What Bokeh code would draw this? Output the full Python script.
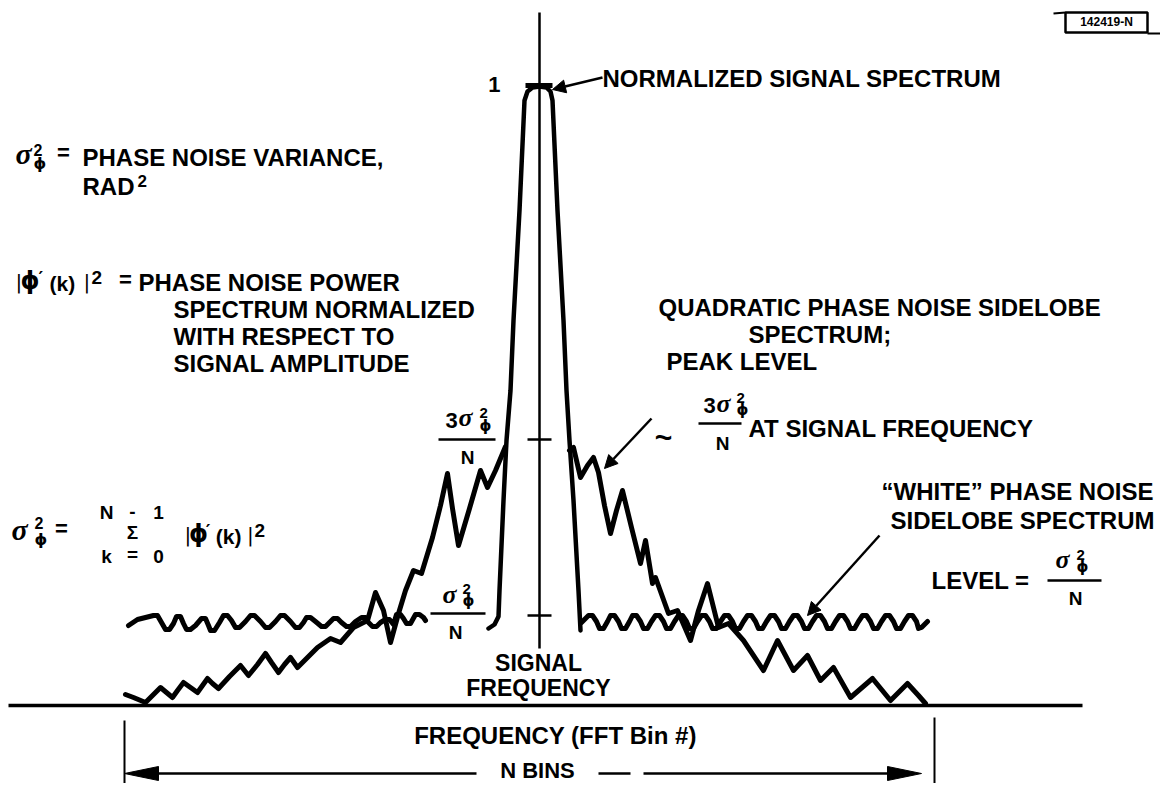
from bokeh.plotting import figure
from bokeh.models import Range1d, Arrow, NormalHead
from bokeh.core.properties import value
from bokeh.embed import file_html
from bokeh.resources import INLINE

# ---------------- data (x = FFT-bin offset from signal frequency, y = level) -------------
lobe_x = [-51, -45, -41, -40, -36, -33, -29, -26, -20, -15, -12, -7, 0, 7, 11, 13, 18, 24, 27, 30, 34, 39, 41]
lobe_y = [77, 81, 89, 115, 205, 265, 315, 385, 495, 605, 614, 618, 619, 618, 614, 605, 495, 385, 315, 265, 205, 115, 75]
peak_level = 620          # normalized peak "1"
peak_halfwidth = [-14, 13]

white_left_x = [-411, -402,
                -386, -382, -378, -374, -370, -366,
                -363, -359, -356, -353, -349, -344,
                -338, -334, -331, -329, -325, -320,
                -316, -312, -308, -304, -300, -294,
                -289, -285, -279, -274, -270, -264,
                -259, -255, -249, -244, -240, -236,
                -233, -229, -224, -218, -214, -210,
                -206, -202, -198, -193, -189, -184,
                -178, -174, -171, -167, -163, -159,
                -154, -150, -146, -143, -139, -136, -133, -129,
                -124, -120, -116, -114]
white_left_y = [80, 86,
                90, 90, 83, 76, 76, 82,
                89, 89, 82, 76, 76, 80,
                87, 87, 80, 75, 75, 83,
                90, 90, 85, 78, 78, 84,
                90, 90, 84, 78, 78, 84,
                90, 90, 84, 78, 78, 83,
                88, 88, 84, 79, 79, 83,
                87, 87, 83, 79, 79, 84,
                88, 88, 83, 79, 79, 83,
                86, 86, 81, 91, 91, 87, 82, 82,
                91, 91, 88, 85]

white_right_x = [42,
                 49, 53, 57, 60, 64, 68,
                 71, 75, 79, 82, 86, 90,
                 93, 97, 101, 104, 108, 112,
                 116, 120, 124, 127, 131, 135,
                 139, 143, 147, 150, 154, 158,
                 162, 166, 170, 173, 177, 181,
                 185, 189, 193, 196, 200, 204,
                 208, 212, 216, 219, 223, 227,
                 231, 235, 239, 242, 246, 250,
                 254, 258, 262, 265, 269, 273,
                 277, 281, 285, 288, 292, 296,
                 300, 304, 308, 311, 315, 319,
                 323, 327, 331, 334, 338, 342,
                 346, 350, 354, 357, 361, 365,
                 369, 373, 377, 379, 382, 386, 388]
white_right_y = [83,
                 90, 90, 84, 77, 77, 84,
                 90, 90, 84, 77, 77, 84,
                 90, 90, 84, 77, 77, 84,
                 90, 90, 84, 77, 77, 84,
                 90, 90, 84, 77, 77, 84,
                 90, 90, 84, 77, 77, 84,
                 90, 90, 84, 77, 77, 84,
                 90, 90, 84, 77, 77, 84,
                 90, 90, 84, 77, 77, 84,
                 90, 90, 84, 77, 77, 84,
                 90, 90, 84, 77, 77, 84,
                 90, 90, 84, 77, 77, 84,
                 90, 90, 84, 77, 77, 84,
                 90, 90, 84, 77, 77, 84,
                 90, 90, 84, 77, 78, 82, 84]

quad_left_x = [-414, -406, -394, -387, -379, -373, -367, -362, -356, -349, -342, -337, -332, -327, -321,
               -310, -299, -295, -291, -282, -274, -268, -261, -255, -249, -242, -232, -222, -209, -199,
               -186, -172, -164, -156, -149, -141, -134, -126, -118, -107, -99, -92, -87, -81, -70, -59,
               -52, -44, -34]
quad_left_y = [11, 8, 3, 10, 18, 13, 8, 15, 23, 18, 13, 20, 27, 22, 17,
               29, 40, 35, 30, 41, 52, 43, 33, 41, 48, 38, 48, 58, 67, 63,
               78, 85, 113, 95, 63, 92, 115, 135, 132, 168, 200, 232, 197, 160, 197, 235,
               218, 235, 259]

quad_right_x = [30, 34, 41, 48, 54, 59, 65, 71, 77, 83, 92, 101, 106, 113, 116, 129, 138, 151, 159, 168,
                179, 189, 204, 224, 238, 254, 268, 281, 294, 311, 333, 351, 368, 379, 386]
quad_right_y = [255, 258, 228, 240, 248, 233, 200, 172, 195, 215, 178, 142, 165, 122, 128, 92, 95, 65, 95, 122,
                78, 82, 65, 35, 65, 35, 50, 25, 38, 8, 27, 5, 22, 10, 2]

levels = {"3σ²/N": 266, "σ²/N": 90}

# ---------------- figure ----------------------------------------------------------------
X0, Y0 = 539, 705
p = figure(width=1160, height=783, output_backend="svg", toolbar_location=None,
           x_range=Range1d(0 - X0, 1160 - X0), y_range=Range1d(Y0 - 783, Y0 - 0),
           x_axis_location=None, y_axis_location=None, min_border=0)
p.grid.visible = False
p.outline_line_color = None
p.background_fill_color = "white"
p.border_fill_color = "white"

def T(X, Yc, s, size, align="left", font="Liberation Sans", style="bold", cap=0.72):
    yb = Yc + cap * size / 2 - 0.37 * size
    p.text(x=[X - X0], y=[Y0 - yb], text=[s], text_font=value(font),
           text_font_style=style, text_font_size=f"{size}px", text_align=align,
           text_baseline="alphabetic", text_color="black")

def S(X1, Y1, X2, Y2, w=2.5):
    p.segment(x0=[X1 - X0], y0=[Y0 - Y1], x1=[X2 - X0], y1=[Y0 - Y2], line_color="black",
              line_width=w, line_cap="butt")

def A(X1, Y1, X2, Y2, size=13, w=2.5):
    p.add_layout(Arrow(x_start=X1 - X0, y_start=Y0 - Y1, x_end=X2 - X0, y_end=Y0 - Y2,
                       line_width=w, line_color="black",
                       end=NormalHead(size=size, fill_color="black", line_color="black", line_width=1)))

def sig(Xs, Yc, Xsup, ysup, ysub, big=26, small=15):
    T(Xs, Yc, "σ", big, font="Liberation Serif", style="bold italic", cap=0.46)
    T(Xsup, ysup, "2", small, font="Liberation Sans", style="bold")
    T(Xsup, ysub, "ϕ", small, font="DejaVu Sans", style="bold", cap=0.56)

def phik(Xb, Yc, k=1.0):
    T(Xb, Yc, "|", 20, font="DejaVu Sans", style="normal", cap=0.72)
    T(Xb + 5 * k, Yc, "ϕ", 24, font="DejaVu Sans", style="bold", cap=0.62)
    T(Xb + 23 * k, Yc - 5, "′", 18, font="DejaVu Sans", style="bold")
    T(Xb + 34 * k, Yc + 1, "(k)", 21, font="Liberation Sans", style="bold")
    T(Xb + 68 * k, Yc, "|", 20, font="DejaVu Sans", style="normal", cap=0.72)
    T(Xb + 76 * k, Yc - 5, "2", 19, font="Liberation Sans", style="bold")

# ---------------- curves ----------------------------------------------------------------
lw = 5
p.line(white_left_x, white_left_y, line_width=lw, line_color="black", line_join="round", line_cap="round")
p.line(white_right_x, white_right_y, line_width=lw, line_color="black", line_join="round", line_cap="round")
p.line(quad_left_x, quad_left_y, line_width=lw, line_color="black", line_join="round", line_cap="round")
p.line(quad_right_x, quad_right_y, line_width=lw, line_color="black", line_join="round", line_cap="round")
p.line(lobe_x, lobe_y, line_width=4.5, line_color="black", line_join="round", line_cap="round")
p.segment(x0=[peak_halfwidth[0]], y0=[peak_level], x1=[peak_halfwidth[1]], y1=[peak_level],
          line_width=5, line_color="black")

# axis-like lines
S(8, 705, 1082, 705, 3.5)          # frequency axis
S(539, 12, 539, 648, 2.5)          # signal frequency line
for lv in levels.values():
    S(527, Y0 - lv, 551, Y0 - lv, 2.5)
S(124, 720, 124, 799, 2)
S(934, 717, 934, 799, 2)

# N BINS dimension arrow
YA = 773
S(150, YA, 476, YA, 2.5)
S(598, YA, 630, YA, 2.5)
S(643, YA, 895, YA, 2.5)
p.patch(x=[124 - X0, 158 - X0, 158 - X0], y=[Y0 - YA, Y0 - YA + 7, Y0 - YA - 7], color="black")
p.patch(x=[921 - X0, 887 - X0, 887 - X0], y=[Y0 - YA, Y0 - YA + 7, Y0 - YA - 7], color="black")

# ---------------- texts -----------------------------------------------------------------
F = 24
T(500, 84, "1", 22, align="right")
T(602, 78, "NORMALIZED SIGNAL SPECTRUM", F)
A(602, 77, 552, 89)

sig(15, 157, 33, 150, 164, big=30, small=16)
T(63, 155, "=", 22, align="center", cap=0.5)
T(82, 157, "PHASE NOISE VARIANCE,", F)
T(82, 186, "RAD", F)
T(137, 181, "2", 17)

phik(15, 282)
T(125, 282, "=", 22, align="center", cap=0.5)
T(138, 282, "PHASE NOISE POWER", F)
T(173, 309, "SPECTRUM NORMALIZED", F)
T(173, 336, "WITH RESPECT TO", F)
T(173, 363, "SIGNAL AMPLITUDE", F)

sig(11, 533, 34, 523, 540, big=30, small=16)
T(61, 531, "=", 22, align="center", cap=0.5)
T(106, 512, "N", 19, align="center")
T(132, 512, "-", 19, align="center", cap=0.6)
T(158, 512, "1", 19, align="center")
T(132, 532, "Σ", 19, align="center")
T(106, 556, "k", 19, align="center")
T(132, 556, "=", 19, align="center", cap=0.5)
T(158, 556, "0", 19, align="center")
phik(184, 535, 0.92)

# 3σ²/N left of peak
T(445, 420, "3", 22)
sig(458, 421, 479, 413, 427)
S(438, 439, 495, 439, 2.5)
T(467, 457, "N", 19, align="center")

# σ²/N left of peak
sig(442, 598, 462, 589, 602)
S(430, 613, 485, 613, 2.5)
T(455, 632, "N", 19, align="center")

T(538, 663, "SIGNAL", 23, align="center")
T(538, 688, "FREQUENCY", 23, align="center")

T(658, 307, "QUADRATIC PHASE NOISE SIDELOBE", F)
T(748, 334, "SPECTRUM;", F)
T(666, 361, "PEAK LEVEL", F)
T(663, 441, "~", 30, align="center", cap=0.5)
T(703, 405, "3", 22)
sig(716, 407, 736, 398, 411)
S(698, 423, 741, 423, 2.5)
T(722, 443, "N", 19, align="center")
T(748, 428, "AT SIGNAL FREQUENCY", F)
A(651, 418, 604, 468)

T(881, 491, "\u201cWHITE\u201d PHASE NOISE", F)
T(890, 520, "SIDELOBE SPECTRUM", F)
T(931, 580, "LEVEL =", F)
sig(1055, 563, 1076, 555, 568)
S(1047, 580, 1101, 580, 2.5)
T(1075, 598, "N", 19, align="center")
A(879, 535, 807, 615)

T(555, 735, "FREQUENCY (FFT Bin #)", F, align="center")
T(537, 770, "N BINS", 22, align="center")

# figure id tag
p.quad(left=[1065 - X0], right=[1147 - X0], top=[Y0 - 12], bottom=[Y0 - 32],
       fill_color=None, line_color="black", line_width=2.5)
S(1053, 13, 1065, 12, 2)
S(1147, 33, 1160, 33, 2)
T(1106, 22, "142419-N", 12, align="center")

open("out.html", "w").write(file_html(p, INLINE))
